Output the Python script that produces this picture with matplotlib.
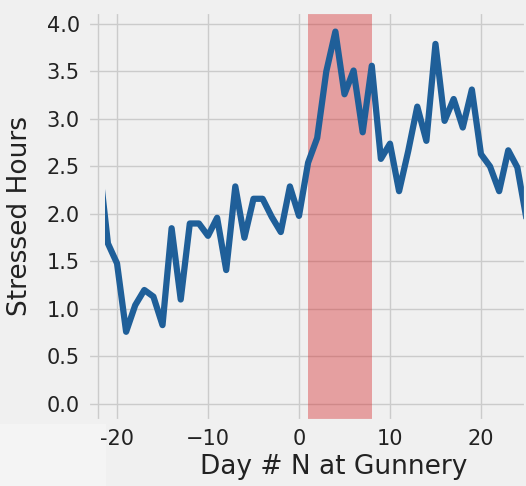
import numpy as np
import matplotlib
matplotlib.use("Agg")
import matplotlib.pyplot as plt
from matplotlib.patches import Rectangle

# datos
dias = list(range(-22, 26))
horas = [2.55, 1.69, 1.48, 0.76, 1.04, 1.20, 1.13, 0.83, 1.85, 1.10,
         1.90, 1.90, 1.77, 1.96, 1.41, 2.29, 1.75, 2.16, 2.16, 1.97,
         1.81, 2.29, 1.98, 2.54, 2.80, 3.50, 3.92, 3.26, 3.51, 2.86,
         3.56, 2.58, 2.74, 2.24, 2.66, 3.13, 2.77, 3.79, 2.98, 3.21,
         2.91, 3.31, 2.63, 2.50, 2.24, 2.67, 2.49, 1.95]
periodo = (1, 8)
xticks = [-20, -10, 0, 10, 20]
xtick_labels = ['-20', '\u221210', '0', '10', '20']
yticks = np.arange(0, 4.01, 0.5)

plt.style.use('fivethirtyeight')

fig = plt.figure(figsize=(5.26, 4.86), dpi=100)
# parche claro abajo a la izquierda (recorte de la captura)
fig.patches.append(Rectangle((0, 0), 106 / 526, 62 / 486, transform=fig.transFigure,
                             facecolor='#f4f4f4', edgecolor='none', zorder=0))
ax = fig.add_axes([88 / 526, 65 / 486, 438 / 526, 409 / 486])
ax.set_zorder(2)

ax.axvspan(periodo[0], periodo[1], color='tab:red', alpha=0.4, lw=0)
linea, = ax.plot(dias, horas, color='#1f5f99', lw=4.5)
# la linea empieza cortada en el borde izquierdo
linea.set_clip_path(Rectangle((-21.35, -1), 60, 10, transform=ax.transData))
ax.axvline(-22.1, color='#cbcbcb', lw=1.0, zorder=0.5)

ax.set_xlim(-23.19, 24.95)
ax.set_ylim(-0.179, 4.126)
ax.set_xticks(xticks)
ax.set_xticklabels(xtick_labels)
ax.set_yticks(yticks)
ax.tick_params(axis='both', labelsize=15, colors='#222222')
ax.tick_params(axis='y', pad=6)
ax.tick_params(axis='x', pad=6)

ax.set_ylabel('Stressed Hours', fontsize=19, color='#222222')
ax.yaxis.set_label_coords(-0.1256, 0.5)
ax.set_xlabel('Day # N at Gunnery', fontsize=19, color='#222222')
ax.xaxis.set_label_coords(0.562, -0.08)
ax.xaxis.label.set_va('top')

fig.savefig('out.png', dpi=100, facecolor='#f0f0f0')
